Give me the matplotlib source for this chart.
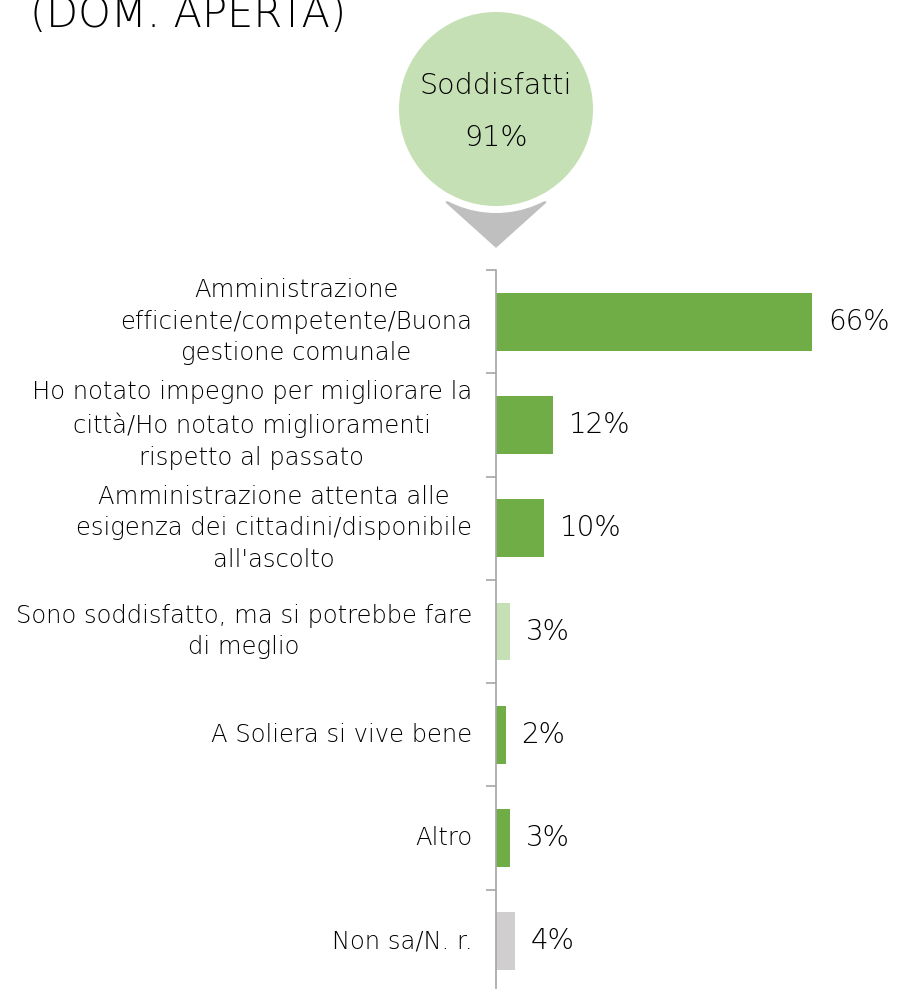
import matplotlib.pyplot as plt
from matplotlib.patches import Circle, Polygon
from matplotlib.ticker import FixedLocator, NullLocator

plt.rcParams['font.family'] = ['DejaVu Sans']

# data
labels = ["Amministrazione\nefficiente/competente/Buona\ngestione comunale",
          "Ho notato impegno per migliorare la\ncittà/Ho notato miglioramenti\nrispetto al passato",
          "Amministrazione attenta alle\nesigenza dei cittadini/disponibile\nall'ascolto",
          "Sono soddisfatto, ma si potrebbe fare\ndi meglio",
          "A Soliera si vive bene",
          "Altro",
          "Non sa/N. r."]
values = [66, 12, 10, 3, 2, 3, 4]
bar_colors = ["#70AD47", "#70AD47", "#70AD47", "#C5E0B4", "#70AD47", "#70AD47", "#D0CECE"]
total_label = "Soddisfatti"
total_value = "91%"

W, H = 897, 989
fig = plt.figure(figsize=(W / 100, H / 100), dpi=100)

# bar axes (pixel coords converted to figure fractions)
ax_left, ax_top, ax_bottom = 496, 270, 993
ax = fig.add_axes([ax_left / W, (H - ax_bottom) / H, (W - ax_left) / W, (ax_bottom - ax_top) / H])
pos = list(range(len(values)))
ax.barh(pos, values, height=0.56, color=bar_colors)
ax.set_ylim(len(values) - 0.5, -0.5)
ax.set_xlim(0, (W - ax_left) / 4.79)
for p, v in zip(pos, values):
    ax.text(v + 3.3, p, f"{v}%", va='center', ha='left', fontsize=20, color='black',
            fontweight='light')
    ax.text(-5, p, labels[p], va='center', ha='right', multialignment='center',
            fontsize=17.5, color='black', linespacing=1.4, fontweight='light')

ax.yaxis.set_major_locator(NullLocator())
ax.yaxis.set_minor_locator(FixedLocator([i - 0.5 for i in range(len(values) + 1)]))
ax.tick_params(axis='y', which='minor', length=7, color='#A6A6A6', width=1.2)
ax.xaxis.set_visible(False)
for s in ['top', 'right', 'bottom']:
    ax.spines[s].set_visible(False)
ax.spines['left'].set_color('#A6A6A6')
ax.spines['left'].set_linewidth(1.2)

# header: title, circle and arrow, drawn in pixel coordinates
top = fig.add_axes([0, 0, 1, 1], zorder=-1)
top.set_xlim(0, W)
top.set_ylim(H, 0)
top.axis('off')
top.text(30, 27, "(DOM. APERTA)", fontsize=30, ha='left', va='baseline', color='black',
         fontweight='light')
top.add_patch(Polygon([(446, 202), (546, 202), (496, 247)], closed=True, color='#BFBFBF'))
top.add_patch(Circle((496, 109), 104, facecolor='white', edgecolor='none'))
top.add_patch(Circle((496, 109), 97, facecolor='#C5E0B4', edgecolor='none'))
top.text(496, 86, total_label, fontsize=20.5, ha='center', va='center', fontweight='light')
top.text(496, 138, total_value, fontsize=20.5, ha='center', va='center', fontweight='light')

fig.savefig("out.png", dpi=100)
